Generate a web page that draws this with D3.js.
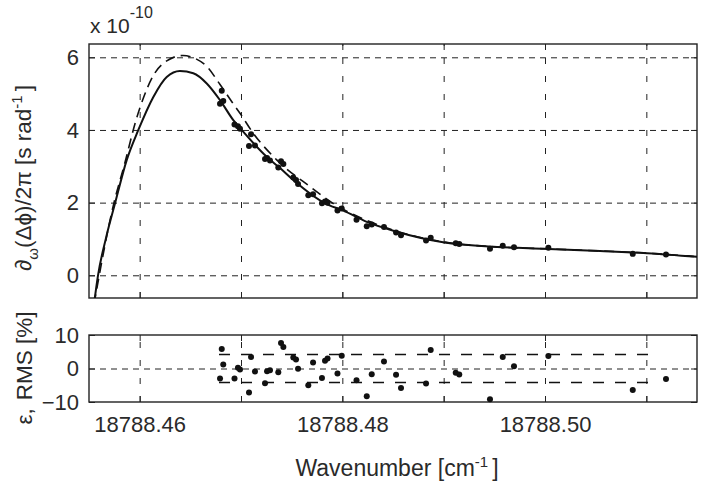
<!DOCTYPE html>
<html>
<head>
<meta charset="utf-8">
<script src="https://cdn.jsdelivr.net/npm/d3@7"></script>
<style>
  body { margin: 0; background: #fff; }
  svg { font-family: "Liberation Sans", Arial, Helvetica, sans-serif; }
  .tick text { font-size: 22px; fill: #2a2a2a; }
  .tick line { stroke: #222; }
</style>
</head>
<body>
<div id="chart-area"></div>
<script>
// measured points: wavenumber (cm^-1), group delay (x 1e-10 s/rad), residual (%)
let measWn = [
  18788.46793, 18788.46810, 18788.46825, 18788.46936, 18788.46970, 18788.46990,
  18788.47079, 18788.47099, 18788.47138, 18788.47237, 18788.47257, 18788.47286,
  18788.47368, 18788.47395, 18788.47418, 18788.47516, 18788.47543, 18788.47563,
  18788.47664, 18788.47711, 18788.47799, 18788.47829, 18788.47854, 18788.47952,
  18788.47994, 18788.48140, 18788.48241, 18788.48290, 18788.48411, 18788.48530,
  18788.48579, 18788.48826, 18788.48872, 18788.49119, 18788.49154, 18788.49457,
  18788.49583, 18788.49694, 18788.50033, 18788.50866, 18788.51194
];
let measDelay = [
  4.72, 5.08, 4.80, 4.15, 4.10, 4.03,
  3.56, 3.88, 3.57, 3.20, 3.23, 3.16,
  2.97, 3.14, 3.06, 2.69, 2.62, 2.51,
  2.20, 2.23, 1.98, 2.03, 2.00, 1.78,
  1.84, 1.53, 1.35, 1.40, 1.33, 1.18,
  1.10, 0.96, 1.03, 0.88, 0.86, 0.73,
  0.81, 0.77, 0.76, 0.59, 0.57
];
let measErr = [
  -3.0, 5.8, 1.2, -3.0, 0.2, -0.3,
  -7.2, 3.4, -0.9, -4.4, -0.8, -0.5,
  -1.1, 7.6, 6.4, 3.3, 2.7, -0.1,
  -5.0, 1.8, -2.8, 2.3, 3.0, -1.5,
  3.8, -3.5, -8.3, -1.7, 2.1, -1.9,
  -5.8, -4.5, 5.5, -1.3, -1.8, -9.2,
  3.4, 0.7, 3.7, -6.4, -3.1
];

// model curves
let solidWn = [
  18788.45549, 18788.45589, 18788.45668, 18788.45757, 18788.45872, 18788.45987,
  18788.46135, 18788.46267, 18788.46398, 18788.46529, 18788.46662, 18788.46793,
  18788.46924, 18788.47007, 18788.47254, 18788.47385, 18788.47516, 18788.47829,
  18788.48010, 18788.48241, 18788.48537, 18788.48994, 18788.49526, 18788.50000,
  18788.50543, 18788.51007, 18788.51500
];
let solidDelay = [
  -0.8, 0.0, 1.03, 1.98, 3.17, 4.0,
  4.91, 5.46, 5.62, 5.56, 5.28, 4.82,
  4.27, 4.0, 3.26, 2.95, 2.62, 1.98,
  1.78, 1.47, 1.20, 0.91, 0.78, 0.73,
  0.67, 0.61, 0.51
];
let dashWn = [
  18788.45549, 18788.45747, 18788.45850, 18788.45964, 18788.46033, 18788.46135,
  18788.46267, 18788.46428, 18788.46546, 18788.46665, 18788.46793, 18788.46911,
  18788.46990, 18788.47118, 18788.47355, 18788.47681, 18788.47908, 18788.48224,
  18788.48540, 18788.48994, 18788.49526, 18788.50000, 18788.50543, 18788.51007,
  18788.51500
];
let dashDelay = [
  -0.8, 2.0, 3.05, 4.27, 4.85, 5.5,
  5.9, 6.05, 5.97, 5.74, 5.25, 4.77,
  4.46, 3.92, 3.17, 2.44, 1.98, 1.53,
  1.21, 0.92, 0.78, 0.73, 0.67, 0.61,
  0.51
];

// RMS band in the residual panel
let rmsLevel = 4.2;
let rmsRange = [18788.46783, 18788.51066];

let xTicks = [18788.46, 18788.47, 18788.48, 18788.49, 18788.50, 18788.51];
let xTickLabels = ["18788.46", "", "18788.48", "", "18788.50", ""];
let yTicksTop = [0, 2, 4, 6];
let yTicksBottom = [-10, 0, 10];

// layout
let width = 702, height = 485;
let left = 89, right = 697;
let top1 = 44, bot1 = 298;
let top2 = 335, bot2 = 402;

let svg = d3
  .select("#chart-area")
  .append("svg")
  .attr("width", width)
  .attr("height", height);

let x = d3.scaleLinear().domain([18788.455, 18788.515]).range([left, right]);
let yTop = d3.scaleLinear().domain([-0.625, 6.366]).range([bot1, top1]);
let yBot = d3.scaleLinear().domain([-10, 10]).range([bot2, top2]);

function drawFrame(y, yTicks, yTop0, yBot0, hGrid, showXLabels) {
  let h = yBot0 - yTop0;

  // vertical grid
  svg.append("g")
    .attr("transform", "translate(0," + yBot0 + ")")
    .call(d3.axisBottom(x).tickValues(xTicks).tickSize(-h).tickFormat(""))
    .call(g => g.select(".domain").remove())
    .selectAll("line")
    .attr("stroke", "#555")
    .attr("stroke-dasharray", "6,12");

  // horizontal grid
  svg.append("g")
    .attr("transform", "translate(" + left + ",0)")
    .call(d3.axisLeft(y).tickValues(hGrid).tickSize(-(right - left)).tickFormat(""))
    .call(g => g.select(".domain").remove())
    .selectAll("line")
    .attr("stroke", "#555")
    .attr("stroke-dasharray", "6,5");

  // inward ticks on all four sides
  svg.append("g")
    .attr("transform", "translate(0," + yBot0 + ")")
    .call(d3.axisBottom(x).tickValues(xTicks).tickSizeInner(-6).tickSizeOuter(0).tickPadding(14)
      .tickFormat((d, i) => showXLabels ? xTickLabels[i] : ""))
    .call(g => g.select(".domain").remove());

  svg.append("g")
    .attr("transform", "translate(0," + yTop0 + ")")
    .call(d3.axisTop(x).tickValues(xTicks).tickSizeInner(-6).tickSizeOuter(0).tickFormat(""))
    .call(g => g.select(".domain").remove());

  svg.append("g")
    .attr("transform", "translate(" + left + ",0)")
    .call(d3.axisLeft(y).tickValues(yTicks).tickSizeInner(-6).tickSizeOuter(0).tickPadding(10)
      .tickFormat(d3.format("d")))
    .call(g => g.select(".domain").remove());

  svg.append("g")
    .attr("transform", "translate(" + right + ",0)")
    .call(d3.axisRight(y).tickValues(yTicks).tickSizeInner(-6).tickSizeOuter(0).tickFormat(""))
    .call(g => g.select(".domain").remove());

  // box
  svg.append("rect")
    .attr("x", left)
    .attr("y", yTop0)
    .attr("width", right - left)
    .attr("height", h)
    .attr("fill", "none")
    .attr("stroke", "#222")
    .attr("stroke-width", 1.4);
}

drawFrame(yTop, yTicksTop, top1, bot1, yTicksTop, false);
drawFrame(yBot, yTicksBottom, top2, bot2, [0], true);

svg.append("clipPath")
  .attr("id", "clipTop")
  .append("rect")
  .attr("x", left)
  .attr("y", top1)
  .attr("width", right - left)
  .attr("height", bot1 - top1);

let line = d3.line()
  .x(d => x(d[0]))
  .y(d => yTop(d[1]))
  .curve(d3.curveMonotoneX);

let plotTop = svg.append("g").attr("clip-path", "url(#clipTop)");

plotTop.append("path")
  .datum(dashWn.map((d, i) => [d, dashDelay[i]]))
  .attr("d", line)
  .attr("fill", "none")
  .attr("stroke", "#111")
  .attr("stroke-width", 1.6)
  .attr("stroke-dasharray", "10,6");

plotTop.append("path")
  .datum(solidWn.map((d, i) => [d, solidDelay[i]]))
  .attr("d", line)
  .attr("fill", "none")
  .attr("stroke", "#111")
  .attr("stroke-width", 2);

plotTop.selectAll("circle")
  .data(measWn)
  .enter()
  .append("circle")
  .attr("cx", d => x(d))
  .attr("cy", (d, i) => yTop(measDelay[i]))
  .attr("r", 3)
  .attr("fill", "#111");

// residual panel
[rmsLevel, -rmsLevel].forEach(v => {
  svg.append("line")
    .attr("x1", x(rmsRange[0]))
    .attr("x2", x(rmsRange[1]))
    .attr("y1", yBot(v))
    .attr("y2", yBot(v))
    .attr("stroke", "#111")
    .attr("stroke-width", 1.5)
    .attr("stroke-dasharray", "11,11");
});

svg.append("g")
  .selectAll("circle")
  .data(measWn)
  .enter()
  .append("circle")
  .attr("cx", d => x(d))
  .attr("cy", (d, i) => yBot(measErr[i]))
  .attr("r", 3)
  .attr("fill", "#111");

// exponent label
let expo = svg.append("text")
  .attr("x", 90)
  .attr("y", 33)
  .style("font-size", "21px")
  .attr("fill", "#2a2a2a");
expo.append("tspan").text("x 10");
expo.append("tspan").attr("dy", -15).style("font-size", "16px").text("-10");

// axis titles
let yLabel = svg.append("text")
  .attr("transform", "translate(31,178) rotate(-90)")
  .attr("text-anchor", "middle")
  .style("font-size", "22.5px")
  .attr("fill", "#2a2a2a");
yLabel.append("tspan").text("∂");
yLabel.append("tspan").attr("dy", 7).style("font-size", "15px").text("ω");
yLabel.append("tspan").attr("dy", -7).text("(Δϕ)/2π [s rad");
yLabel.append("tspan").attr("dy", -9).style("font-size", "15px").text("-1");
yLabel.append("tspan").attr("dy", 9).attr("dx", 4).text("]");

let eLabel = svg.append("text")
  .attr("transform", "translate(32,368) rotate(-90)")
  .attr("text-anchor", "middle")
  .style("font-size", "22.5px")
  .attr("fill", "#2a2a2a");
eLabel.append("tspan").text("ε,");
eLabel.append("tspan").attr("dx", 8).text("RMS [%]");

let xLabel = svg.append("text")
  .attr("x", 397)
  .attr("y", 476)
  .attr("text-anchor", "middle")
  .style("font-size", "23px")
  .attr("fill", "#2a2a2a");
xLabel.append("tspan").text("Wavenumber [cm");
xLabel.append("tspan").attr("dy", -9).style("font-size", "15px").text("-1");
xLabel.append("tspan").attr("dy", 9).attr("dx", 4).text("]");
</script>
</body>
</html>
